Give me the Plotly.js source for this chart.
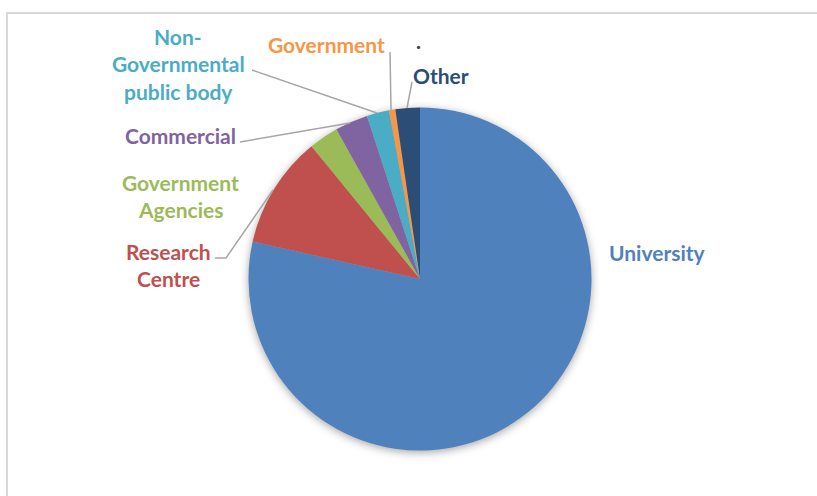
<!DOCTYPE html>
<html>
<head>
<meta charset="utf-8">
<script src="https://cdn.plot.ly/plotly-3.0.1.min.js"></script>
<style>
html,body{margin:0;padding:0;background:#fff;}
#chart{width:817px;height:496px;}
.pielayer .trace{filter:drop-shadow(0px 2px 4px rgba(0,0,0,0.35));}
</style>
</head>
<body>
<div id="chart"></div>
<script>
// Data
const categories = ["University", "Research Centre", "Government Agencies", "Commercial", "Non-Governmental public body", "Government", "Other"];
const shares = [78.5, 10.6, 2.8, 3.1, 2.1, 0.6, 2.3];
const displayLabels = ["University", "Research<br>Centre", "Government<br>Agencies", "Commercial", "Non-<br>Governmental<br>public body", "Government", "Other"];
const sliceColors = ["#4F81BD", "#C0504D", "#9BBB59", "#8064A2", "#4BACC6", "#F79646", "#2C4D75"];

const W = 817, H = 496;
const px = v => v / W;
const py = v => 1 - v / H;

// label centres (pixels) for each category's text lines: [x, firstLineY]
const labelPos = [[657, 252], [168, 251], [180, 182], [180, 135], [178, 36], [326, 44], [441, 75]];
const lineGap = 27.5;

const annotations = [];
displayLabels.forEach((lab, i) => {
  lab.split("<br>").forEach((ln, k) => {
    annotations.push({
      xref: "paper", yref: "paper",
      x: px(labelPos[i][0]), y: py(labelPos[i][1] + k * lineGap),
      xanchor: "center", yanchor: "middle",
      text: ln, showarrow: false,
      font: {family: "Lato, 'Open Sans', sans-serif", size: 21, color: sliceColors[i], weight: "bold"}
    });
  });
});
annotations.push({xref: "paper", yref: "paper", x: px(418), y: py(40), text: ".", showarrow: false,
  xanchor: "center", yanchor: "middle",
  font: {family: "Lato, sans-serif", size: 21, color: "#404040", weight: "bold"}});

// leader lines
const leaders = [
  [[252, 70], [377, 113]],
  [[390, 52], [391, 110]],
  [[412, 82], [407, 108]],
  [[240, 142], [350, 123]],
  [[215, 258], [226, 258], [273, 190]]
];
const shapes = leaders.map(pts => ({
  type: "path", xref: "paper", yref: "paper",
  path: pts.map((p, j) => (j ? "L" : "M") + px(p[0]) + "," + py(p[1])).join(" "),
  line: {color: "#A6A6A6", width: 1.5}
}));
shapes.push({type: "rect", xref: "paper", yref: "paper", x0: px(7), x1: 1.2, y0: -0.2, y1: py(13),
  line: {color: "#D9D9D9", width: 2}, fillcolor: "rgba(0,0,0,0)"});

const cx = 420, cy = 279, r = 171.5;
const trace = {
  type: "pie",
  labels: categories,
  values: shares,
  sort: false,
  direction: "clockwise",
  rotation: 0,
  textinfo: "none",
  hoverinfo: "skip",
  marker: {colors: sliceColors, line: {width: 0}},
  domain: {x: [px(cx - r), px(cx + r)], y: [py(cy + r), py(cy - r)]}
};

Plotly.newPlot("chart", [trace], {
  width: W, height: H,
  margin: {l: 0, r: 0, t: 0, b: 0},
  paper_bgcolor: "#ffffff",
  showlegend: false,
  annotations: annotations,
  shapes: shapes
}, {staticPlot: true});
</script>
</body>
</html>
